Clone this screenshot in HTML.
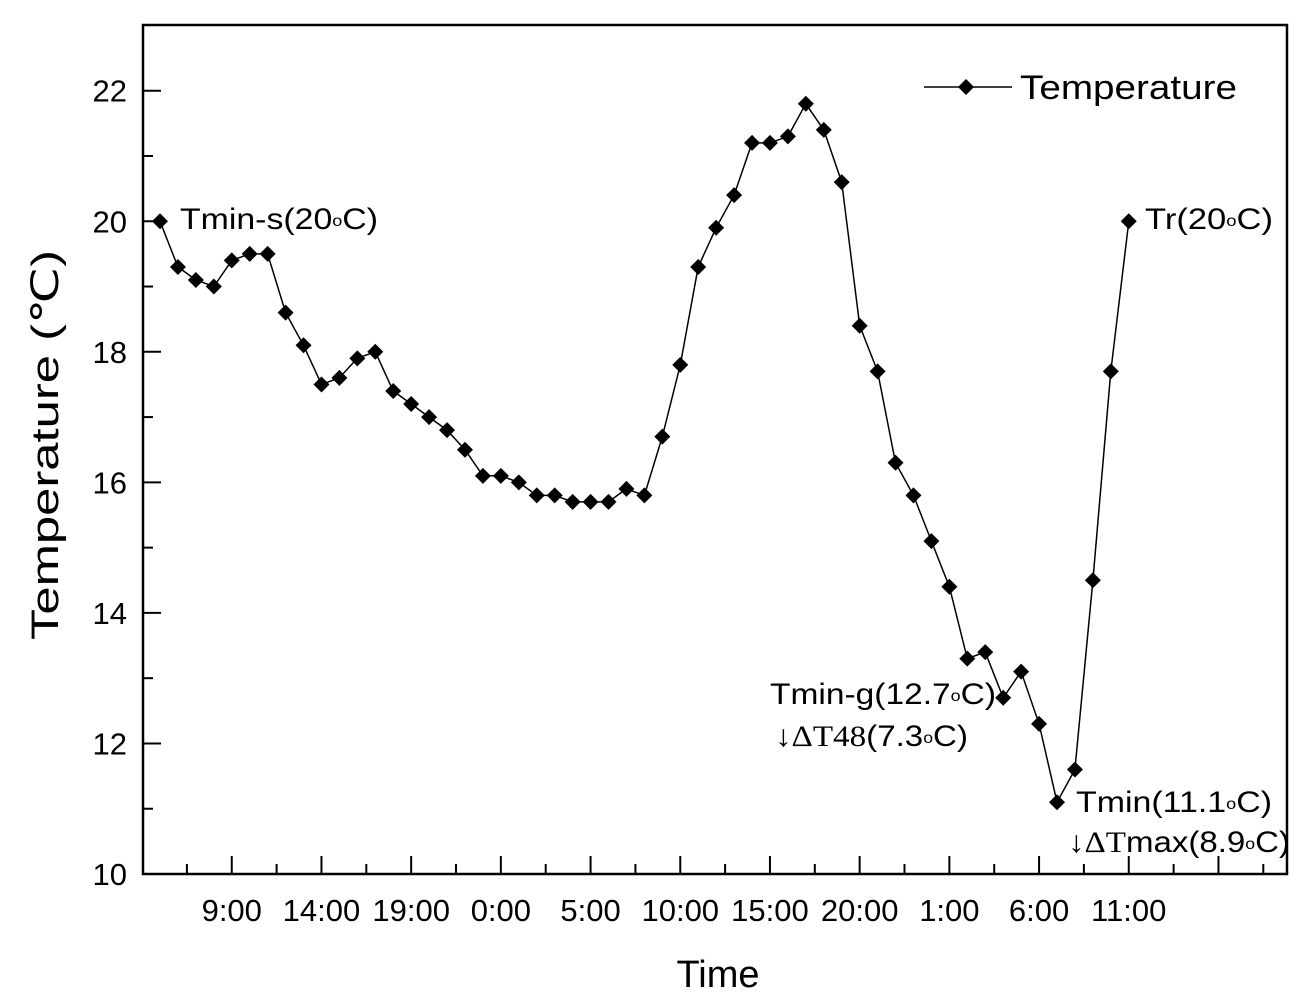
<!DOCTYPE html>
<html><head><meta charset="utf-8">
<style>
html,body{margin:0;padding:0;background:#fff;}
svg{display:block;}
text{font-family:"Liberation Sans",Arial,sans-serif;fill:#000;}
</style></head>
<body>
<svg id="chart" width="1305" height="1000" viewBox="0 0 1305 1000">
  <rect x="0" y="0" width="1305" height="1000" fill="#fff"/>
  <g id="axes"></g>
  <g id="series"></g>
  <g>
    <line x1="924" y1="87" x2="1012" y2="87" stroke="#000" stroke-width="1.5"/>
    <path d="M966,79 L974,87 L966,95 L958,87 Z" fill="#000"/>
    <text x="1020" y="99" font-size="34" textLength="217" lengthAdjust="spacingAndGlyphs">Temperature</text>
  </g>
  <text x="180" y="229" font-size="30" textLength="198" lengthAdjust="spacingAndGlyphs">Tmin-s(20<tspan font-size="16" dy="-3">o</tspan><tspan dy="3">C)</tspan></text>
  <text x="1145" y="229" font-size="30" textLength="128" lengthAdjust="spacingAndGlyphs">Tr(20<tspan font-size="16" dy="-3">o</tspan><tspan dy="3">C)</tspan></text>
  <text x="770" y="704" font-size="30" textLength="226" lengthAdjust="spacingAndGlyphs">Tmin-g(12.7<tspan font-size="16" dy="-3">o</tspan><tspan dy="3">C)</tspan></text>
  <text x="775" y="746" font-size="30" textLength="193" lengthAdjust="spacingAndGlyphs">↓<tspan font-family="Liberation Serif, serif">ΔT48</tspan>(7.3<tspan font-size="16" dy="-3">o</tspan><tspan dy="3">C)</tspan></text>
  <text x="1076" y="812" font-size="30" textLength="196" lengthAdjust="spacingAndGlyphs">Tmin(11.1<tspan font-size="16" dy="-3">o</tspan><tspan dy="3">C)</tspan></text>
  <text x="1068" y="852" font-size="30" textLength="222" lengthAdjust="spacingAndGlyphs">↓<tspan font-family="Liberation Serif, serif">ΔT</tspan>max(8.9<tspan font-size="16" dy="-3">o</tspan><tspan dy="3">C)</tspan></text>
  <text x="718" y="987" font-size="38" text-anchor="middle">Time</text>
  <text transform="translate(58,445) rotate(-90)" font-size="38" text-anchor="middle" textLength="390" lengthAdjust="spacingAndGlyphs">Temperature (℃)</text>
</svg>
<script>
const temps = [20.0,19.3,19.1,19.0,19.4,19.5,19.5,18.6,18.1,17.5,17.6,17.9,18.0,17.4,17.2,17.0,16.8,16.5,16.1,16.1,16.0,15.8,15.8,15.7,15.7,15.7,15.9,15.8,16.7,17.8,19.3,19.9,20.4,21.2,21.2,21.3,21.8,21.4,20.6,18.4,17.7,16.3,15.8,15.1,14.4,13.3,13.4,12.7,13.1,12.3,11.1,11.6,14.5,17.7,20.0];
const xTickLabels = ["9:00","14:00","19:00","0:00","5:00","10:00","15:00","20:00","1:00","6:00","11:00"];
const yTickValues = [10,12,14,16,18,20,22];

const L=143,R=1287,T=25,B=874;
const hourPx = 17.94;
const x0 = 160;
function xScale(h){return x0 + h*hourPx;}
function yScale(v){return B - (v-10)*(B-90.7)/12;}
const NS="http://www.w3.org/2000/svg";
const axes=document.getElementById('axes');
const series=document.getElementById('series');
function mk(tag,attrs,parent){const e=document.createElementNS(NS,tag);for(const k in attrs)e.setAttribute(k,attrs[k]);parent.appendChild(e);return e;}

const frame=mk('rect',{x:L,y:T,width:R-L,height:B-T,fill:'none',stroke:'#000','stroke-width':2.5},axes);



for(let v=10;v<=22;v++){
  const y=yScale(v);const major=(v%2===0);
  const t=mk('line',{x1:L,x2:L+(major?18:10),y1:y,y2:y,stroke:'#000','stroke-width':2},axes);
  
  
}
yTickValues.forEach(v=>{
  const t=mk('text',{x:L-16,y:yScale(v)+11,'font-size':31,'text-anchor':'end'},axes);
  t.textContent=v;
  
  
});

const firstMajorH=4;
for(let k=-1;k<=12;k++){
  const h=firstMajorH+k*5;
  const xm=xScale(h);
  if(xm>L+1&&xm<R-1){
    const t=mk('line',{x1:xm,x2:xm,y1:B,y2:B-18,stroke:'#000','stroke-width':2},axes);
    
    
  }
  const xn=xScale(h+2.5);
  if(xn>L+1&&xn<R-1){
    const t=mk('line',{x1:xn,x2:xn,y1:B,y2:B-10,stroke:'#000','stroke-width':2},axes);
    
    
  }
}
xTickLabels.forEach((lab,i)=>{
  const t=mk('text',{x:xScale(firstMajorH+i*5),y:B+47,'font-size':31,'text-anchor':'middle'},axes);
  t.textContent=lab;
  
  
});

const pts=temps.map((v,i)=>xScale(i).toFixed(1)+','+yScale(v).toFixed(1)).join(' ');
const pl=mk('polyline',{points:pts,fill:'none',stroke:'#000','stroke-width':1.5},series);


temps.forEach((v,i)=>{
  const cx=xScale(i),cy=yScale(v),s=8;
  const p=mk('path',{d:`M${cx},${cy-s} L${cx+s},${cy} L${cx},${cy+s} L${cx-s},${cy} Z`,fill:'#000'},series);
  
  
});
</script>
</body></html>
